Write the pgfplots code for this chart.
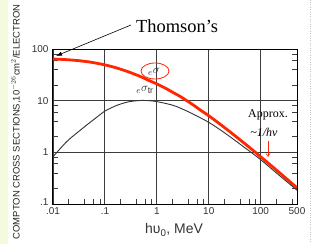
\documentclass[border=0pt]{standalone}
\usepackage{fontspec}
\setmainfont{Liberation Sans}
\newfontfamily\tms{Liberation Serif}
\usepackage{pgfplots}
\pgfplotsset{compat=1.18}
\usetikzlibrary{arrows.meta}
\definecolor{redc}{RGB}{255,38,0}
\definecolor{strip}{RGB}{243,250,222}
\definecolor{gridc}{RGB}{60,60,60}
\begin{document}
\begin{tikzpicture}[x=1bp,y=1bp]
\clip (0,0) rectangle (313,244);
\fill[white] (0,0) rectangle (313,244);
\fill[strip] (0,0) rectangle (8,244);
\draw[gray!45, dotted] (310,0)--(310,244);
\begin{axis}[
  xmode=log, ymode=log,
  xmin=0.01, xmax=500, ymin=0.1, ymax=100,
  scale only axis, width=244bp, height=155bp,
  at={(53bp,40bp)}, anchor=south west,
  xtick={0.01,0.1,1,10,100,500},
  xticklabels={.01,.1,1,10,100,500},
  ytick={0.1,1,10,100},
  yticklabels={\raisebox{4bp}{.1},1,10,100},
  minor xtick={0.02,0.04,0.06,0.08,0.2,0.4,0.6,0.8,2,4,6,8,20,40,60,80,200,400},
  minor ytick={0.2,0.4,0.6,0.8,2,4,6,8,20,40,60,80},
  xtick pos=left, ytick pos=both,
  tick align=inside,
  major tick length=0pt, minor tick length=5bp,
  minor tick style={gridc, line width=0.7bp},
  grid=major,
  major grid style={gridc, line width=0.9bp},
  axis line style={black, line width=1bp},
  ticklabel style={font=\fontsize{10}{11}\selectfont, text=black!80},
  xticklabel style={yshift=-0.5bp},
  yticklabel style={xshift=-1bp},
  clip=true,
]
\addplot[redc, line width=2.8bp, smooth] coordinates {
 (0.01,64.0) (0.015,62.9) (0.02,61.8) (0.03,59.7) (0.05,56.2) (0.07,52.9)
 (0.1,49.3) (0.15,44.4) (0.2,40.7) (0.3,35.4) (0.5,28.9) (0.7,24.6)
 (1,21.1) (1.5,17.2) (2,14.6) (3,11.6) (5,8.29) (7,6.5) (10,5.10)
 (20,3.03) (50,1.46) (100,0.82) (200,0.455) (500,0.206)
};
\addplot[black!80, line width=0.9bp, smooth] coordinates {
 (0.01,0.82) (0.015,1.3) (0.02,1.75) (0.03,2.45) (0.05,3.7) (0.07,4.8)
 (0.1,6.3) (0.15,7.7) (0.2,8.6) (0.3,9.6) (0.5,10.1) (0.7,10.0)
 (1,9.6) (2,8.2) (3,7.0) (5,5.5) (10,3.8) (20,2.4) (50,1.22)
 (100,0.72) (200,0.40) (500,0.185)
};
\end{axis}
\node[rotate=90, anchor=center, inner sep=0pt, font=\fontsize{9.5}{10}\selectfont, text=black!85] at (16,122) {COMPTON CROSS SECTIONS,10$^{-26}$cm$^2$/ELECTRON};
\node[anchor=center, font=\fontsize{14}{15}\selectfont, text=black!80] at (174,14) {hυ\textsubscript{0}, MeV};
\node[anchor=base west, inner sep=0pt, font=\tms\fontsize{18.5}{20}\selectfont] at (136,212) {Thomson’s};
\draw[-{Latex[length=6bp,width=4bp]}, line width=0.6bp] (131,219) -- (56,188);
\draw[redc, line width=0.8bp] (155,173) ellipse [x radius=14, y radius=8];
\node[font=\fontsize{12.5}{13}\selectfont, text=black!80] at (154,172) {$_e\sigma$};
\node[font=\fontsize{12.5}{13}\selectfont, text=black!80] at (145,154) {$_e\sigma_{\mathrm{tr}}$};
\node[font=\tms\fontsize{12}{13}\selectfont] at (268,129) {Approx.};
\node[font=\tms\itshape\fontsize{12}{13}\selectfont] at (264,112) {\textasciitilde 1/hv};
\draw[redc, line width=0.6bp, -{Straight Barb[length=3bp,width=4bp]}] (268,103) -- (268,87);
\end{tikzpicture}
\end{document}
